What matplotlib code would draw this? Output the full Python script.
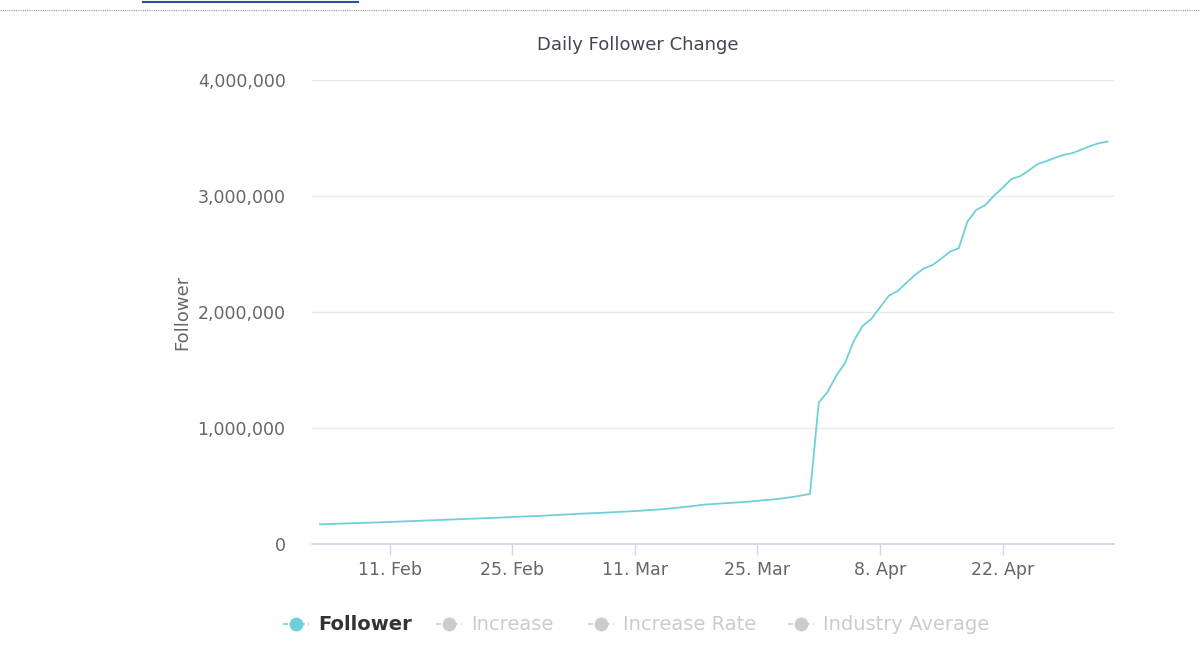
import matplotlib
matplotlib.use("Agg")
import matplotlib.pyplot as plt
import matplotlib.dates as mdates
from matplotlib.lines import Line2D
import pandas as pd
import numpy as np

# daily follower counts (thousands)
feb_vals = [170, 172, 175, 177, 180, 182, 185, 187, 190, 193, 196, 199, 202,
            205, 208, 211, 214, 217, 220, 223, 226, 229, 233, 236, 239, 242]
mar_vals = [246, 250, 254, 258, 262, 265, 268, 272, 276, 280, 284, 289, 294,
            299, 306, 314, 322, 331, 340, 345, 350, 355, 360, 365, 372, 379,
            386, 395, 405, 418, 432]
apr_vals = [1220, 1310, 1450, 1560, 1750, 1880, 1940, 2040, 2140, 2180, 2250,
            2320, 2375, 2405, 2460, 2520, 2550, 2780, 2880, 2920, 3000, 3070,
            3145, 3170, 3220, 3275, 3300, 3330, 3355, 3370]
may_vals = [3400, 3430, 3455, 3470]
start_date = "2021-02-03"

followers = np.array(feb_vals + mar_vals + apr_vals + may_vals) * 1000
dates = pd.date_range(start_date, periods=len(followers), freq="D")

tick_dates = pd.to_datetime(["2021-02-11", "2021-02-25", "2021-03-11",
                             "2021-03-25", "2021-04-08", "2021-04-22"])
y_ticks = [0, 1000000, 2000000, 3000000, 4000000]
legend_names = ["Follower", "Increase", "Increase Rate", "Industry Average"]

line_col = "#6fd0da"
W, H = 1200, 647

fig = plt.figure(figsize=(12, 6.47), dpi=100)
fig.patch.set_facecolor("white")
ax = fig.add_axes([312 / W, 1 - 544 / H, (1114 - 312) / W, (544 - 80) / H])

ax.plot(dates, followers, color=line_col, lw=1.3, solid_joinstyle="round")

# axis ranges
x0 = mdates.date2num(pd.Timestamp("2021-02-11"))
ax.set_xlim(x0 - 8.91, x0 + 82.74)
ax.set_ylim(0, 4000000)

ax.set_yticks(y_ticks)
ax.set_yticklabels([f"{v:,}" for v in y_ticks])
ax.set_xticks(tick_dates)
ax.set_xticklabels([d.strftime("%-d. %b") for d in tick_dates])

ax.grid(axis="y", color="#e9e9e9", lw=1)
ax.set_axisbelow(True)
for s in ["top", "right", "left"]:
    ax.spines[s].set_visible(False)
ax.spines["bottom"].set_color("#ccd6eb")
ax.spines["bottom"].set_linewidth(1.2)

ax.tick_params(axis="y", length=0, pad=19, labelsize=12.5, labelcolor="#666666")
ax.tick_params(axis="x", length=8, width=1, color="#ccd6eb", pad=4,
               labelsize=12.5, labelcolor="#666666")

# titles
fig.text(638 / W, 1 - 45 / H, "Daily Follower Change", ha="center", va="center",
         fontsize=13, color="#444455")
fig.text(182 / W, 1 - 312 / H, "Follower", rotation=90, ha="center", va="center",
         fontsize=13, color="#666666")

# legend drawn by hand
leg_x = [296, 449, 601, 801]
leg_y = 1 - 624 / H
for i, (name, mx) in enumerate(zip(legend_names, leg_x)):
    active = i == 0
    c = line_col if active else "#cccccc"
    fig.add_artist(Line2D([(mx - 13) / W, (mx + 13) / W], [leg_y, leg_y],
                          color=c, lw=1.2, ls=(0, (3, 2)), transform=fig.transFigure))
    fig.add_artist(Line2D([mx / W], [leg_y], marker="o", ms=9, color=c,
                          transform=fig.transFigure))
    fig.text((mx + 22) / W, leg_y, name, ha="left", va="center", fontsize=14,
             fontweight="bold" if active else "normal",
             color="#333333" if active else "#cccccc")

# page decorations at the top
fig.add_artist(Line2D([143 / W, 358 / W], [1 - 2 / H, 1 - 2 / H], color="#2d4fa8",
                      lw=1.5, transform=fig.transFigure))
fig.add_artist(Line2D([0, 1], [1 - 10 / H, 1 - 10 / H], color="#9a9a9a", lw=0.8,
                      ls=(0, (1, 1)), transform=fig.transFigure))

fig.savefig("out.png", dpi=100)
plt.close(fig)
